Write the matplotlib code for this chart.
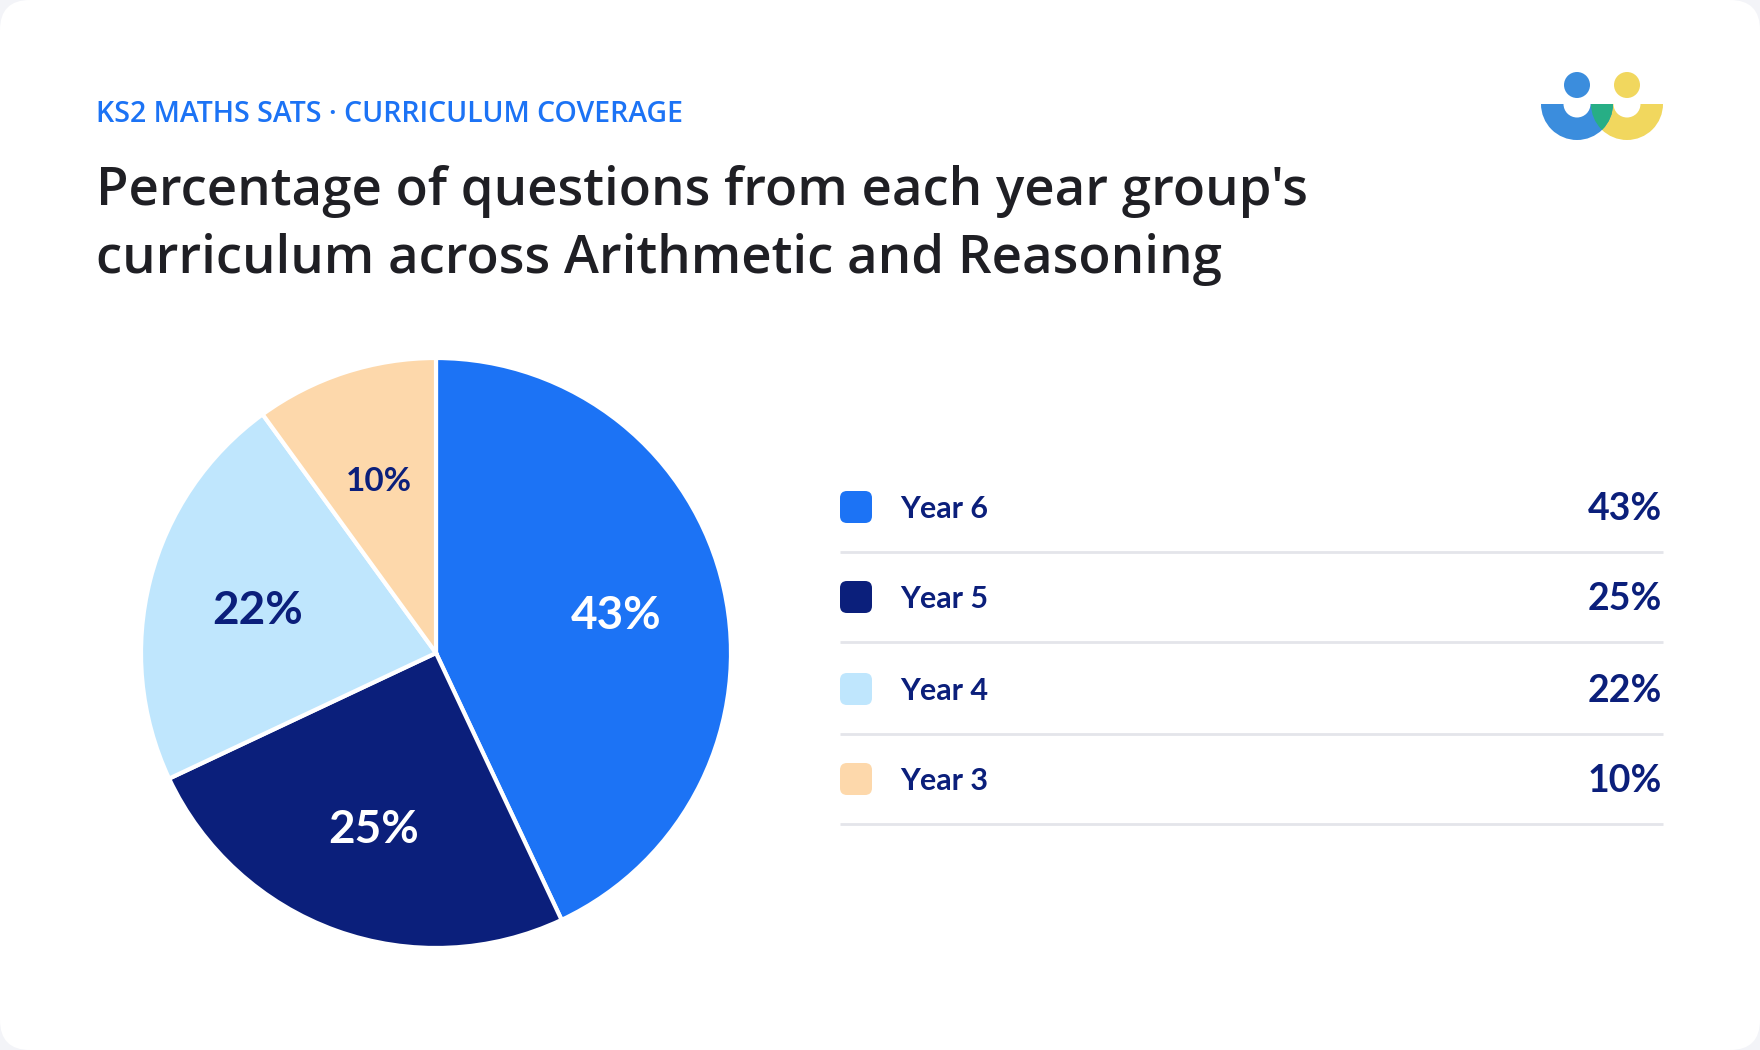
import matplotlib.pyplot as plt
from matplotlib.patches import FancyBboxPatch, Wedge, Circle

plt.rcParams['font.family'] = ['Lato', 'DejaVu Sans']

# data
years = ['Year 6', 'Year 5', 'Year 4', 'Year 3']
shares = [43, 25, 22, 10]
colors = ['#1c73f5', '#0b1f7b', '#bfe6fd', '#fdd8ab']
label_colors = ['white', 'white', '#0b1f7b', '#0b1f7b']
label_sizes = [33, 33, 33, 24]

W, H = 1760, 1050
fig = plt.figure(figsize=(W / 100, H / 100), dpi=100)
fig.patch.set_facecolor('#f3f4f8')

# background / card layer in pixel coords
bg = fig.add_axes([0, 0, 1, 1])
bg.set_xlim(0, W)
bg.set_ylim(H, 0)
bg.axis('off')
bg.add_patch(FancyBboxPatch((0, 0), W, H, boxstyle='round,pad=0,rounding_size=30',
                            fc='white', ec='none'))

head = ['Open Sans', 'DejaVu Sans']
bg.text(96, 114, 'KS2 MATHS SATS · CURRICULUM COVERAGE', color='#1c73f5',
        fontsize=20.5, fontweight='semibold', va='center', ha='left', family=head)
bg.text(96, 191, "Percentage of questions from each year group's", color='#1f1f24',
        fontsize=38, fontweight='semibold', va='center', ha='left', family=head)
bg.text(96, 259, 'curriculum across Arithmetic and Reasoning', color='#1f1f24',
        fontsize=38, fontweight='semibold', va='center', ha='left', family=head)

# logo
blue_ring = Wedge((1577, 104), 36, 0, 180, width=22.5, fc='#3b8ddd', ec='none')
yellow_ring = Wedge((1627, 104), 36, 0, 180, width=22.5, fc='#f1d75e', ec='none')
bg.add_patch(yellow_ring)
bg.add_patch(blue_ring)
green = Wedge((1627, 104), 36, 0, 180, width=22.5, fc='#27ae85', ec='none')
bg.add_patch(green)
green.set_clip_path(blue_ring)
bg.add_patch(Circle((1577, 85), 13, fc='#3b8ddd', ec='none'))
bg.add_patch(Circle((1627, 85), 13, fc='#f1d75e', ec='none'))

# legend table
row_y = [507, 597, 689, 779]
for i, (yr, v) in enumerate(zip(years, shares)):
    y = row_y[i]
    bg.add_patch(FancyBboxPatch((840, y - 16), 32, 32,
                                boxstyle='round,pad=0,rounding_size=7',
                                fc=colors[i], ec='none'))
    bg.text(900, y + 2, yr, color='#0b1f7b', fontsize=22, fontweight='bold',
            va='center', ha='left')
    bg.text(1662, y + 2, f'{v}%', color='#0b1f7b', fontsize=27, fontweight='bold',
            va='center', ha='right')
    bg.plot([840, 1663], [y + 45, y + 45], color='#e4e5ea', lw=2,
            solid_capstyle='butt')

# pie
cx, cy, r = 436, 653, 295
ax = fig.add_axes([(cx - r) / W, (H - cy - r) / H, 2 * r / W, 2 * r / H])
ax.patch.set_alpha(0)
wedges, texts, autotexts = ax.pie(
    shares, colors=colors, startangle=90, counterclock=False,
    autopct=lambda p: f'{p:.0f}%', pctdistance=0.625,
    wedgeprops=dict(edgecolor='white', linewidth=3))
for t, c, s in zip(autotexts, label_colors, label_sizes):
    t.set_color(c)
    t.set_fontsize(s)
    t.set_fontweight('bold')
    x, y = t.get_position()
    t.set_position((x, y - 0.012))
ax.set_xlim(-1.0, 1.0)
ax.set_ylim(-1.0, 1.0)
ax.set_aspect('equal')
ax.axis('off')

fig.savefig('out.png', dpi=100, facecolor=fig.get_facecolor())
